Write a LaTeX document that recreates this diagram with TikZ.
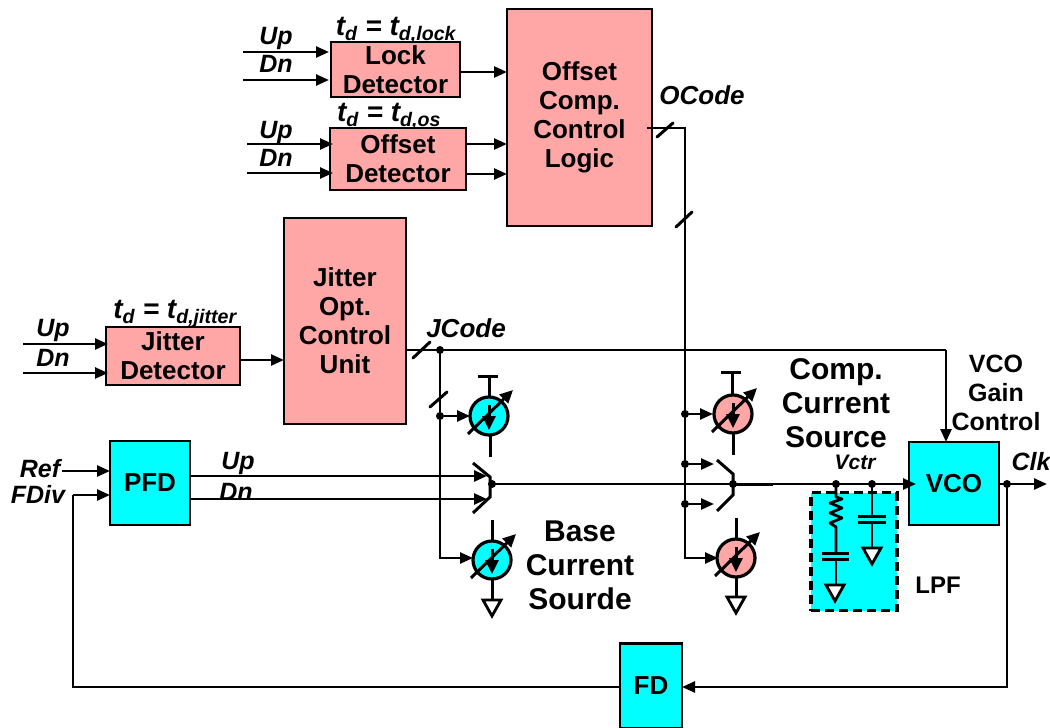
\documentclass[tikz,border=0pt]{standalone}
\usepackage{fontspec}
\setmainfont{Liberation Sans}
\usetikzlibrary{arrows.meta}
\definecolor{pinkbox}{HTML}{FFA6A6}
\definecolor{cyanbox}{HTML}{00FFFF}
\tikzset{
  x=1pt,y=-1pt,
  wire/.style={line width=2.5pt,black},
  arr/.style={wire,-{Triangle[length=13pt,width=11pt]}},
  slash/.style={line width=3pt,line cap=round},
  blk/.style={draw=black,line width=2.8pt,minimum width=0pt,inner sep=0pt,align=center,font=\bfseries\fontsize{26}{29}\selectfont},
  pinkb/.style={blk,fill=pinkbox},
  cyanb/.style={blk,fill=cyanbox},
  lab/.style={font=\bfseries\fontsize{30}{34}\selectfont,align=center,inner sep=0pt},
  ilab/.style={font=\bfseries\itshape\fontsize{25}{28}\selectfont,inner sep=0pt},
  tlab/.style={font=\bfseries\itshape\fontsize{28}{30}\selectfont,inner sep=0pt},
  dot/.style={circle,fill=black,inner sep=0pt,minimum size=8pt},
  gnd/.style={draw=black,line width=2.8pt,fill=white,line join=miter},
  csrc/.style={circle,draw=black,line width=3.2pt,inner sep=0pt,minimum size=38pt},
  stem/.style={line width=3pt}
}
\newcommand{\boxat}[7]{\node[#1,minimum width=#6pt,minimum height=#7pt] (#2) at (#4,#5) {#3};}
\newcommand{\gndtri}[3]{\draw[gnd] (#1-#3,#2) -- (#1+#3,#2) -- (#1,#2+16) -- cycle;}
\newcommand{\srcsym}[4]{%
  \node[csrc,fill=#4] (#1) at (#2,#3) {};
  \draw[line width=3pt,-{Triangle[length=13pt,width=12pt]}] (#2-21,#3+18) -- (#2+24,#3-26);
  \draw[line width=3pt,-{Triangle[length=14pt,width=13pt]}] (#2,#3-11) -- (#2,#3+14);
}
\begin{document}
\begin{tikzpicture}
\useasboundingbox (0,0) rectangle (1050,728);
% blocks
\boxat{pinkb}{lock}{Lock\\Detector}{395.5}{69.5}{129}{55}
\boxat{pinkb}{offd}{Offset\\Detector}{398}{159}{136}{62}
\boxat{pinkb}{ctl}{Offset\\Comp.\\Control\\Logic}{579.5}{117.5}{145}{217}
\boxat{pinkb}{jit}{Jitter\\Opt.\\Control\\Unit}{345}{321}{122}{206}
\boxat{pinkb}{jdet}{Jitter\\Detector}{173}{356}{134}{58}
\boxat{cyanb}{pfd}{PFD}{150}{483}{80}{84}
\boxat{cyanb}{vco}{VCO}{954}{483.5}{90}{83}
\boxat{cyanb}{fd}{FD}{651}{686}{62}{85}
\node[draw=black,fill=cyanbox,line width=3.4pt,dash pattern=on 9pt off 5pt,minimum width=86pt,minimum height=118pt,inner sep=0pt] (lpf) at (854,551.5) {};
% free coordinates
\foreach \n/\x/\y in {a1/243/52,a2/243/80,b1/247/144,b2/247/173,c1/23/344,c2/23/373,
  ref/62/471,fdiv/73/495,clk/1047/484,oc/685/128,jc/946/350,sw/492/484,sw2/733/484,v1/836/484,v2/872/484,fb/1007/484}
  {\coordinate (\n) at (\x,\y);}
% input arrows
\draw[arr] (a1) -- (329,52);
\draw[arr] (a2) -- (329,80);
\draw[arr] (b1) -- (333,144);
\draw[arr] (b2) -- (333,173);
\draw[arr] (c1) -- (108,344);
\draw[arr] (c2) -- (108,373);
\draw[arr] (lock.east |- 0,72) -- (507,72);
\draw[arr] (466,144) -- (507,144);
\draw[arr] (466,174) -- (507,174);
\draw[arr] (jdet.east |- 0,360) -- (284,360);
\draw[arr] (ref) -- (110,471);
% OCode bus
\draw[wire] (647,128) -- (oc) -- (685,558) -- (705,558);
\draw[arr] (700,558) -- (718,558);
\draw[slash] (657,137) -- (673,123);
\draw[slash] (676,227) -- (692,212);
% JCode bus
\draw[wire] (jit.east |- jc) -- (jc);
\draw[arr] (jc) -- (946,442);
\draw[slash] (413,358) -- (430,342);
\draw[wire] (440,350) -- (440,558) -- (455,558);
\draw[arr] (450,558) -- (473,558);
\draw[slash] (430,407) -- (447,392);
\node[dot] at (440,350) {};
\node[dot] (j2) at (440,416) {};
\draw[arr] (j2) -- (470,416);
% PFD outputs
\draw[arr] (190,476) -- (487,476);
\draw[arr] (190,499) -- (487,499);
% left switch
\draw[stem] (473,463) -- (490,477) -- (490,497) -- (473,513);
% right switch
\draw[stem] (717,460) -- (733,474) -- (733,495) -- (717,511);
\node[dot] (s1) at (685,414) {};
\node[dot] (s2) at (685,464) {};
\node[dot] (s3) at (685,504) {};
\draw[arr] (s1) -- (713,414);
\draw[arr] (s2) -- (714,464);
\draw[arr] (s3) -- (714,504);
% main control line
\draw[arr] (sw) -- (916,484);
\draw[line width=3pt] (sw2) -- (773,484);
\node[dot] at (sw) {};
\node[dot] at (sw2) {};
% current sources
\srcsym{s4}{489}{416}{cyanbox}
\draw[stem] (489,376) -- (489,397);
\draw[stem] (478,376) -- (498,376);
\draw[stem] (490,435) -- (490,457);
\srcsym{s5}{492}{560}{cyanbox}
\draw[stem] (492,520) -- (492,541);
\draw[stem] (492,579) -- (492,600);
\gndtri{492}{600}{9}
\srcsym{s6}{733}{414}{pinkbox}
\draw[stem] (732,372) -- (732,395);
\draw[stem] (721,372) -- (741,372);
\draw[stem] (733,433) -- (733,455);
\srcsym{s7}{736}{558}{pinkbox}
\draw[stem] (736,518) -- (736,539);
\draw[stem] (736,577) -- (736,597);
\gndtri{736}{597}{9}
% LPF contents
\node[dot] at (v1) {};
\node[dot] at (v2) {};
\draw[line width=2.8pt,line join=round] (v1) -- (836,497) -- (842,499) -- (830,503) -- (842,508) -- (830,513) -- (842,518) -- (830,523) -- (836,527) -- (836,553);
\draw[stem] (822,553) -- (849,553);
\draw[stem] (822,559) -- (849,559);
\draw[line width=2.8pt] (836,559) -- (836,585);
\gndtri{835}{585}{9}
\draw[line width=2.8pt] (v2) -- (872,516);
\draw[stem] (858,516) -- (886,516);
\draw[stem] (858,522) -- (886,522);
\draw[line width=2.8pt] (872,522) -- (872,548);
\gndtri{872}{548}{9}
% output and feedback
\draw[arr] (vco.east |- clk) -- (clk);
\node[dot] at (fb) {};
\draw[wire] (fb) -- (1007,687) -- (690,687);
\draw[arr] (700,687) -- (682,687);
\draw[wire] (fd.west |- 0,687) -- (73,687) -- (fdiv);
\draw[arr] (fdiv) -- (110,495);
% labels
\node[ilab,anchor=base] at (276,44) {Up};
\node[ilab,anchor=base] at (276,72) {Dn};
\node[ilab,anchor=base] at (276,138) {Up};
\node[ilab,anchor=base] at (276,166) {Dn};
\node[ilab,anchor=base] at (53,336) {Up};
\node[ilab,anchor=base] at (53,366) {Dn};
\node[ilab,anchor=base] at (238,469) {Up};
\node[ilab,anchor=base] at (236,500) {Dn};
\node[tlab,anchor=base] at (396,35) {t\textsubscript{d} = t\textsubscript{d,lock}};
\node[tlab,anchor=base] at (389,121) {t\textsubscript{d} = t\textsubscript{d,os}};
\node[tlab,anchor=base] at (175,318) {t\textsubscript{d} = t\textsubscript{d,jitter}};
\node[ilab,anchor=base,font=\bfseries\itshape\fontsize{26}{28}\selectfont] at (702,104) {OCode};
\node[ilab,anchor=base,font=\bfseries\itshape\fontsize{26}{28}\selectfont] at (466,337) {JCode};
\node[ilab,anchor=base] at (40,477) {Ref};
\node[ilab,anchor=base] at (38,503) {FDiv};
\node[ilab,anchor=base] at (1031,470) {Clk};
\node[ilab,anchor=base,font=\bfseries\itshape\fontsize{21}{24}\selectfont] at (855,469) {Vctr};
\node[lab,anchor=center] at (836,403.5) {Comp.\\Current\\Source};
\node[lab,anchor=center] at (580,565) {Base\\Current\\Sourde};
\node[lab,anchor=center,font=\bfseries\fontsize{25}{29}\selectfont] at (996,393) {VCO\\Gain\\Control};
\node[lab,anchor=center,font=\bfseries\fontsize{24}{26}\selectfont] at (938,585) {LPF};
\end{tikzpicture}
\end{document}
